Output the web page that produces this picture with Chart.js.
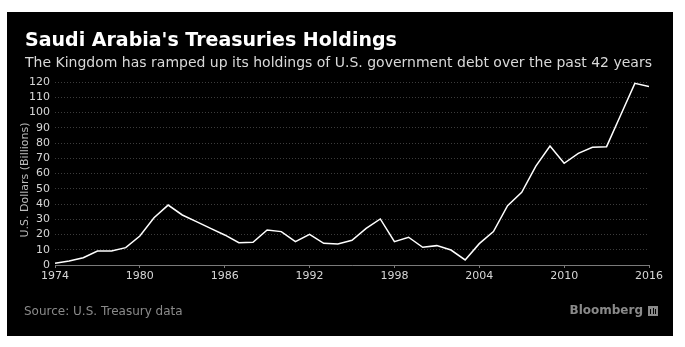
<!DOCTYPE html>
<html>
<head>
<meta charset="utf-8">
<script src="https://cdn.jsdelivr.net/npm/chart.js@4"></script>
<style>
  html, body { margin: 0; padding: 0; background: #fff; }
  #box { position: absolute; left: 7px; top: 12px; width: 666px; height: 324px; background: #000; }
  canvas { display: block; }
</style>
</head>
<body>
<div id="box"><canvas id="chart" width="666" height="324"></canvas></div>
<script>
// years and holdings (US$ billions)
const years = [
  1974, 1975, 1976, 1977, 1978, 1979, 1980, 1981, 1982, 1983, 1984,
  1985, 1986, 1987, 1988, 1989, 1990, 1991, 1992, 1993, 1994, 1995,
  1996, 1997, 1998, 1999, 2000, 2001, 2002, 2003, 2004, 2005, 2006,
  2007, 2008, 2009, 2010, 2011, 2012, 2013, 2014, 2015, 2016
];
const holdings = [
  1.1, 2.6, 4.8, 9.2, 9.2, 11.4, 19.0, 31.0, 39.3, 32.8, 28.4,
  24.0, 19.7, 14.6, 14.9, 23.0, 21.9, 15.3, 20.1, 14.2, 13.8, 16.2,
  24.0, 30.2, 15.3, 18.2, 11.6, 12.7, 9.8, 3.3, 14.0, 21.9, 38.9,
  47.7, 64.9, 78.0, 66.7, 73.2, 77.2, 77.6, 98.4, 119.1, 117.0
];
const yearTicks = [1974, 1980, 1986, 1992, 1998, 2004, 2010, 2016];

const titleText = "Saudi Arabia's Treasuries Holdings";
const subtitleText = "The Kingdom has ramped up its holdings of U.S. government debt over the past 42 years";
const yTitle = "U.S. Dollars (Billions)";
const sourceText = "Source: U.S. Treasury data";

const FONT = "'DejaVu Sans', sans-serif";

// headline, axis title and footer text
const textPlugin = {
  id: "texts",
  afterDraw(chart) {
    const ctx = chart.ctx;
    ctx.save();
    ctx.textAlign = "left";
    ctx.textBaseline = "alphabetic";
    ctx.fillStyle = "#ffffff";
    ctx.font = "bold 19px " + FONT;
    ctx.fillText(titleText, 18, 34);
    ctx.fillStyle = "#d9d9d9";
    ctx.font = "14px " + FONT;
    ctx.fillText(subtitleText, 18, 55);

    ctx.fillStyle = "#8a8a8a";
    ctx.font = "12px " + FONT;
    ctx.textBaseline = "middle";
    ctx.fillText(sourceText, 17, 300);

    ctx.font = "bold 12px " + FONT;
    ctx.textAlign = "right";
    ctx.fillText("Bloomberg", 636, 299);
    // little logo square
    ctx.fillStyle = "#8a8a8a";
    ctx.fillRect(641, 294, 10, 10);
    ctx.fillStyle = "#000";
    ctx.fillRect(643, 297, 1, 5);
    ctx.fillRect(646, 296, 1, 6);
    ctx.fillRect(648, 297, 1, 5);

    // y axis title
    ctx.translate(18, 168);
    ctx.rotate(-Math.PI / 2);
    ctx.textAlign = "center";
    ctx.fillStyle = "#bdbdbd";
    ctx.font = "11px " + FONT;
    ctx.fillText(yTitle, 0, 0);
    ctx.restore();
  }
};

const ctx = document.getElementById("chart").getContext("2d");

new Chart(ctx, {
  type: "line",
  data: {
    datasets: [{
      data: years.map((y, i) => ({ x: y, y: holdings[i] })),
      borderColor: "#ffffff",
      borderWidth: 1.5,
      pointRadius: 0,
      tension: 0,
      fill: false
    }]
  },
  options: {
    responsive: false,
    animation: false,
    layout: { padding: { top: 70, right: 24, bottom: 0, left: 11 } },
    plugins: {
      legend: { display: false },
      tooltip: { enabled: false }
    },
    scales: {
      x: {
        type: "linear",
        min: 1974,
        max: 2016,
        afterFit: (s) => { s.height = 71; },
        afterBuildTicks: (s) => { s.ticks = yearTicks.map(v => ({ value: v })); },
        grid: { drawOnChartArea: false, drawTicks: true, tickLength: 3, color: "#7a7a7a" },
        border: { display: true, color: "#7a7a7a", width: 1 },
        ticks: {
          color: "#d6d6d6",
          font: { family: FONT, size: 11 },
          padding: 2,
          maxRotation: 0,
          autoSkip: false,
          callback: (v) => String(v)
        }
      },
      y: {
        min: 0,
        max: 120,
        afterFit: (s) => { s.width = 37; },
        grid: { color: "#3c3c3c", drawTicks: false, lineWidth: 1 },
        border: { display: false, dash: [1, 2] },
        ticks: {
          stepSize: 10,
          autoSkip: false,
          color: "#d6d6d6",
          font: { family: FONT, size: 11 },
          padding: 5
        }
      }
    }
  },
  plugins: [textPlugin]
});
</script>
</body>
</html>
